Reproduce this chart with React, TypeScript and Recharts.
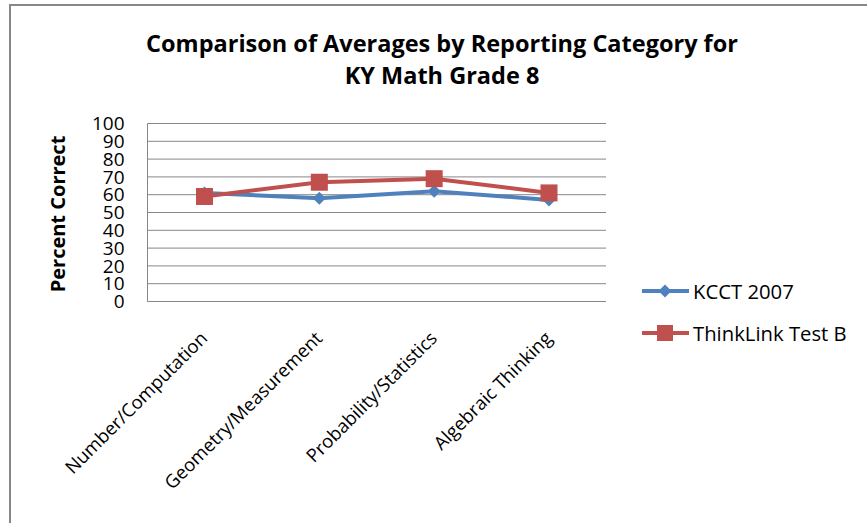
import React from "react";
import { LineChart, Line, XAxis, YAxis, CartesianGrid, Legend } from "recharts";

const categories = [
  "Number/Computation",
  "Geometry/Measurement",
  "Probability/Statistics",
  "Algebraic Thinking",
];
const kcct2007 = [61, 58, 62, 57];
const thinkLinkB = [59, 67, 69, 61];
const yTicks = [0, 10, 20, 30, 40, 50, 60, 70, 80, 90, 100];

const data = categories.map((name, i) => ({
  name,
  kcct: kcct2007[i],
  think: thinkLinkB[i],
}));

const BLUE = "#4F81BD";
const RED = "#C0504D";
const GRID = "#878787";
const FONT = "'Open Sans', sans-serif";

const Diamond = ({ cx, cy }: any) => {
  if (cx == null || cy == null) return null;
  const r = 6.5;
  return (
    <path
      d={`M${cx},${cy - r} L${cx + r},${cy} L${cx},${cy + r} L${cx - r},${cy} Z`}
      fill={BLUE}
    />
  );
};

const Square = ({ cx, cy }: any) => {
  if (cx == null || cy == null) return null;
  const s = 8.5;
  return <rect x={cx - s} y={cy - s} width={s * 2} height={s * 2} fill={RED} />;
};

const XTick = ({ x, y, payload }: any) => (
  <g transform={`translate(${x + 4},${y + 30})`}>
    <text
      x={0}
      y={0}
      textAnchor="end"
      transform="rotate(-45)"
      fontFamily={FONT}
      fontSize={18.5}
      fill="#000"
    >
      {payload.value}
    </text>
  </g>
);

const YLabel = () => (
  <text
    x={57}
    y={214}
    transform="rotate(-90 57 214)"
    textAnchor="middle"
    dominantBaseline="central"
    fontFamily={FONT}
    fontWeight="bold"
    fontSize={20}
    fill="#000"
  >
    Percent Correct
  </text>
);

const renderLegend = ({ payload }: any) => (
  <div style={{ fontFamily: FONT, fontSize: 20.3, color: "#000" }}>
    {(payload || []).map((entry: any) => {
      const isRed = entry.dataKey === "think";
      return (
        <div
          key={entry.dataKey}
          style={{ display: "flex", alignItems: "center", height: 42 }}
        >
          <svg width={50} height={20} style={{ display: "block" }}>
            <line x1={1} y1={10} x2={48} y2={10} stroke={entry.color} strokeWidth={4} />
            {isRed ? (
              <rect x={16} y={2} width={16} height={16} fill={RED} />
            ) : (
              <path d="M24,3.5 L30.5,10 L24,16.5 L17.5,10 Z" fill={BLUE} />
            )}
          </svg>
          <span style={{ marginLeft: 2 }}>{entry.value}</span>
        </div>
      );
    })}
  </div>
);

export default function App() {
  return (
    <div
      style={{
        position: "absolute",
        left: 0,
        top: 0,
        width: 867,
        height: 523,
        background: "#fff",
        overflow: "hidden",
      }}
    >
      <div
        style={{
          position: "absolute",
          left: 9,
          top: 4,
          width: 870,
          height: 530,
          borderLeft: `2px solid ${GRID}`,
          borderTop: `2px solid ${GRID}`,
        }}
      />
      <div
        style={{
          position: "absolute",
          left: 0,
          top: 27,
          width: 884,
          textAlign: "center",
          fontFamily: FONT,
          fontWeight: "bold",
          fontSize: 23.5,
          lineHeight: "32px",
          color: "#000",
        }}
      >
        Comparison of Averages by Reporting Category for
        <br />
        KY Math Grade 8
      </div>
      <div style={{ position: "absolute", left: 0, top: 0 }}>
        <LineChart
          width={867}
          height={523}
          data={data}
          margin={{ top: 123.5, right: 261, bottom: 121.5, left: 107.5 }}
        >
          <CartesianGrid vertical={false} stroke={GRID} />
          <XAxis
            dataKey="name"
            interval={0}
            height={100}
            padding={{ left: 57, right: 57 }}
            axisLine={{ stroke: GRID }}
            tickLine={false}
            tick={<XTick />}
          />
          <YAxis
            domain={[0, 100]}
            ticks={yTicks}
            interval={0}
            width={40}
            axisLine={{ stroke: GRID }}
            tickLine={false}
            tickSize={0}
            tickMargin={23}
            tick={{ fontFamily: FONT, fontSize: 19, fill: "#000" }}
            label={{ content: <YLabel /> }}
          />
          <Legend
            layout="vertical"
            verticalAlign="middle"
            align="center"
            wrapperStyle={{ left: 641, top: 270, width: 226 }}
            content={renderLegend}
          />
          <Line
            type="linear"
            dataKey="kcct"
            name="KCCT 2007"
            stroke={BLUE}
            strokeWidth={4}
            dot={<Diamond />}
            activeDot={false}
            isAnimationActive={false}
          />
          <Line
            type="linear"
            dataKey="think"
            name="ThinkLink Test B"
            stroke={RED}
            strokeWidth={4}
            dot={<Square />}
            activeDot={false}
            isAnimationActive={false}
          />
        </LineChart>
      </div>
    </div>
  );
}
